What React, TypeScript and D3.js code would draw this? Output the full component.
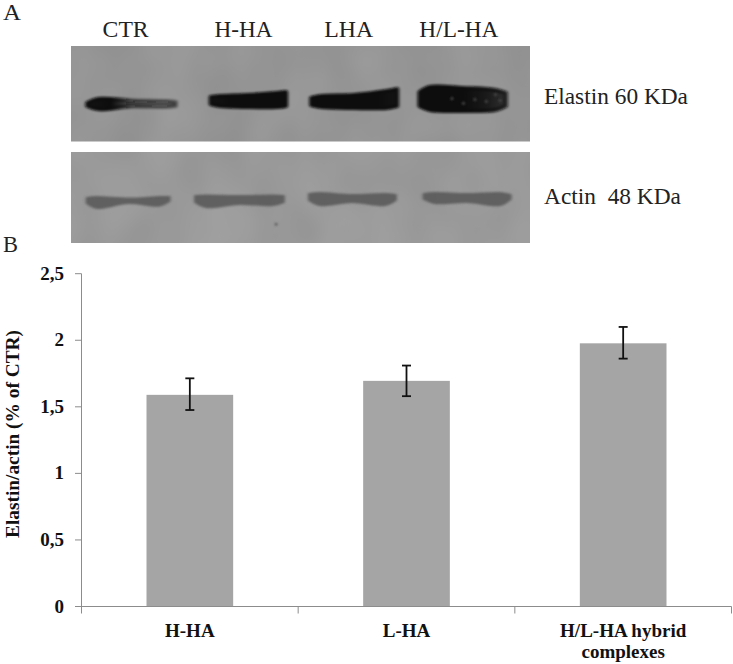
import React from "react";
import * as d3 from "d3";

const categories = ["H-HA", "L-HA", "H/L-HA hybrid|complexes"];
const values = [1.59, 1.695, 1.977];
const errLow = [1.476, 1.58, 1.862];
const errHigh = [1.714, 1.81, 2.1];
const yTicks = [0, 0.5, 1, 1.5, 2, 2.5];

// blot bands, in percent of the panel's width / height
const laneLabels = ["CTR", "H-HA", "LHA", "H/L-HA"];
const laneLabelCenters = [11.9, 37.6, 60.5, 84.5];
const laneLabelWidths = [46, 58, 49, 79];
const profileAt = [0, 0.12, 0.5, 0.88, 1];
const elastinStart = [3.1, 30, 51.9, 75.5];
const elastinEnd = [23.3, 47.3, 71.5, 95.2];
const elastinTop = [[59.7, 55.5, 57, 57.6, 58.6], [53.4, 52.4, 51.3, 49.2, 48.2], [54.5, 52.4, 51.3, 47.1, 45], [48.2, 42.9, 44, 46.1, 49.2]];
const elastinBottom = [[62.8, 66, 63.4, 63.9, 62.8], [60.7, 62.8, 63.9, 63.9, 62.8], [61.8, 63.9, 64.9, 64.9, 62.8], [62.8, 67, 68.1, 67, 62.8]];
const elastinInk = [[0.95, 1, 0.5, 0.42, 0.4], [0.95, 1, 1, 1, 1], [1, 1, 1, 1, 0.95], [1, 1, 1, 0.92, 0.75]];
const actinStart = [3.2, 26.8, 51.6, 76.6];
const actinEnd = [21.7, 46.6, 71, 96];
const actinTop = [[50.5, 49.5, 51.1, 49.5, 49.5], [48.4, 47.8, 48.4, 47.8, 48.4], [46.2, 45.1, 47.3, 46.2, 47.3], [46.2, 45.1, 46.2, 45.1, 47.3]];
const actinBottom = [[56, 61.5, 56, 58.8, 53.8], [54.9, 60.4, 57.1, 58.2, 54.9], [52.7, 58.2, 54.9, 58.2, 52.7], [51.6, 56, 54.9, 58.2, 51.6]];
const mottleX = [83, 85.5, 88, 90.5, 92.5, 93.5];
const mottleY = [55, 60, 56, 58, 51, 57];
const speckX = [44.7];
const speckY = [79.5];

const yScale = d3.scaleLinear().domain([0, 2.5]).range([606.5, 273.7]);
const xScale = d3.scaleBand<number>().domain([0, 1, 2]).range([81.5, 731.5]).paddingInner(0.6).paddingOuter(0.3);
const bandStep = d3.scaleBand<number>().domain([0, 1, 2]).range([81.5, 731.5]);
const pctX = d3.scaleLinear().domain([0, 100]).range([71, 530]);
const pctTop = d3.scaleLinear().domain([0, 100]).range([46, 141.5]);
const pctBot = d3.scaleLinear().domain([0, 100]).range([152, 243]);

const bandPath = (start: number, end: number, top: number[], bottom: number[], py: d3.ScaleLinear<number, number>, inset: number) => {
  const x = d3.scaleLinear().domain([0, 1]).range([pctX(start) + inset, pctX(end) - inset]);
  return d3
    .area<number>()
    .x((d) => x(d))
    .y0((_, i) => py(bottom[i]))
    .y1((_, i) => py(top[i]))
    .curve(d3.curveCatmullRom)(profileAt)!;
};

const serif = "'Liberation Serif', serif";
const axisColor = "#8c8c8c";
const labelSize = 19;

export default function App() {
  return (
    <svg width={733} height={664} style={{ position: "absolute", left: 0, top: 0, background: "#fff" }}>
      <defs>
        <filter id="b1" filterUnits="userSpaceOnUse" x="60" y="50" width="480" height="90"><feGaussianBlur stdDeviation="1.5 1.2" /></filter>
        <filter id="b2" filterUnits="userSpaceOnUse" x="60" y="170" width="480" height="60"><feGaussianBlur stdDeviation="1.6 1.2" /></filter>
        <filter id="b3" x="-150%" y="-150%" width="400%" height="400%"><feGaussianBlur stdDeviation="1" /></filter>
        <filter id="bt" x="0" y="0" width="100%" height="100%"><feTurbulence type="fractalNoise" baseFrequency="0.02 0.015" numOctaves={2} seed={4} /><feColorMatrix values="0 0 0 0 0.95  0 0 0 0 0.95  0 0 0 0 0.95  0.16 0 0 0 -0.03" /></filter>
        {elastinInk.map((ink, i) => (
          <linearGradient id={`eg${i}`} key={i} gradientUnits="userSpaceOnUse" x1={pctX(elastinStart[i])} x2={pctX(elastinEnd[i])} y1={0} y2={0}>
            {ink.map((v, j) => (
              <stop key={j} offset={`${[0, 28, 50, 75, 100][j]}%`} stopColor="#0a0a0a" stopOpacity={v} />
            ))}
          </linearGradient>
        ))}
      </defs>

      <text x={3} y={20} fontFamily={serif} fontSize={24} fill="#222" textLength={18} lengthAdjust="spacingAndGlyphs">A</text>
      <text x={3} y={252} fontFamily={serif} fontSize={24} fill="#222" textLength={15} lengthAdjust="spacingAndGlyphs">B</text>

      {laneLabels.map((l, i) => (
        <text key={l} x={pctX(laneLabelCenters[i])} y={37} textAnchor="middle" fontFamily={serif} fontSize={24} fill="#222"
          textLength={laneLabelWidths[i]} lengthAdjust="spacingAndGlyphs">{l}</text>
      ))}

      <rect x={pctX(0)} y={pctTop(0)} width={pctX(100) - pctX(0)} height={pctTop(100) - pctTop(0)} fill="#909090" />
      <rect x={pctX(0)} y={pctTop(0)} width={pctX(100) - pctX(0)} height={pctTop(100) - pctTop(0)} filter="url(#bt)" />
      {elastinStart.map((s, i) => (
        <path key={i} d={bandPath(s, elastinEnd[i], elastinTop[i], elastinBottom[i], pctTop, 2)}
          fill={`url(#eg${i})`} stroke={`url(#eg${i})`} strokeWidth={4} strokeLinejoin="round" filter="url(#b1)" />
      ))}
      {mottleX.map((m, i) => (
        <circle key={i} cx={pctX(m)} cy={pctTop(mottleY[i])} r={1.6} fill="#444" filter="url(#b3)" />
      ))}

      <rect x={pctX(0)} y={pctBot(0)} width={pctX(100) - pctX(0)} height={pctBot(100) - pctBot(0)} fill="#959595" />
      <rect x={pctX(0)} y={pctBot(0)} width={pctX(100) - pctX(0)} height={pctBot(100) - pctBot(0)} filter="url(#bt)" />
      {actinStart.map((s, i) => (
        <path key={i} d={bandPath(s, actinEnd[i], actinTop[i], actinBottom[i], pctBot, 1)}
          fill="#5a5a5a" stroke="#5a5a5a" strokeWidth={2} strokeLinejoin="round" opacity={0.9} filter="url(#b2)" />
      ))}
      {speckX.map((m, i) => (
        <circle key={i} cx={pctX(m)} cy={pctBot(speckY[i])} r={1.3} fill="#555" filter="url(#b3)" />
      ))}

      <text x={544} y={104} fontFamily={serif} fontSize={24} fill="#222" textLength={144} lengthAdjust="spacingAndGlyphs">Elastin 60 KDa</text>
      <text x={544} y={204} fontFamily={serif} fontSize={24} fill="#222" textLength={137} lengthAdjust="spacingAndGlyphs" xmlSpace="preserve">Actin  48 KDa</text>

      {categories.map((_, i) => (
        <rect key={i} x={xScale(i)} y={yScale(values[i])} width={xScale.bandwidth()} height={yScale(0) - yScale(values[i])} fill="#a5a5a5" />
      ))}

      <line x1={81.5} x2={81.5} y1={yScale(2.5)} y2={yScale(0) + 7} stroke={axisColor} />
      <line x1={75} x2={731.5} y1={yScale(0)} y2={yScale(0)} stroke={axisColor} />
      {yTicks.map((t) => (
        <g key={t}>
          <line x1={75} x2={81.5} y1={yScale(t)} y2={yScale(t)} stroke={axisColor} />
          <text x={64} y={yScale(t) + 6} textAnchor="end" fontFamily={serif} fontSize={labelSize} fontWeight="bold" fill="#111">
            {String(t).replace(".", ",")}
          </text>
        </g>
      ))}
      {[1, 2, 3].map((i) => {
        const x = 81.5 + bandStep.step() * i;
        return <line key={i} x1={x} x2={x} y1={yScale(0)} y2={yScale(0) + 7} stroke={axisColor} />;
      })}

      {categories.map((c, i) => {
        const cx = xScale(i)! + xScale.bandwidth() / 2;
        return (
          <g key={c} stroke="#111" strokeWidth={1.8}>
            <line x1={cx} x2={cx} y1={yScale(errLow[i])} y2={yScale(errHigh[i])} />
            <line x1={cx - 4.5} x2={cx + 4.5} y1={yScale(errLow[i])} y2={yScale(errLow[i])} />
            <line x1={cx - 4.5} x2={cx + 4.5} y1={yScale(errHigh[i])} y2={yScale(errHigh[i])} />
          </g>
        );
      })}

      {categories.map((c, i) => (
        <text key={c} textAnchor="middle" fontFamily={serif} fontSize={labelSize} fontWeight="bold" fill="#111">
          {c.split("|").map((p, j) => (
            <tspan key={j} x={xScale(i)! + xScale.bandwidth() / 2} y={637 + j * 21}>{p}</tspan>
          ))}
        </text>
      ))}

      <text transform="translate(19,434) rotate(-90)" textAnchor="middle" fontFamily={serif} fontSize={labelSize} fontWeight="bold" fill="#111"
        textLength={208} lengthAdjust="spacingAndGlyphs">
        Elastin/actin (% of CTR)
      </text>
    </svg>
  );
}
